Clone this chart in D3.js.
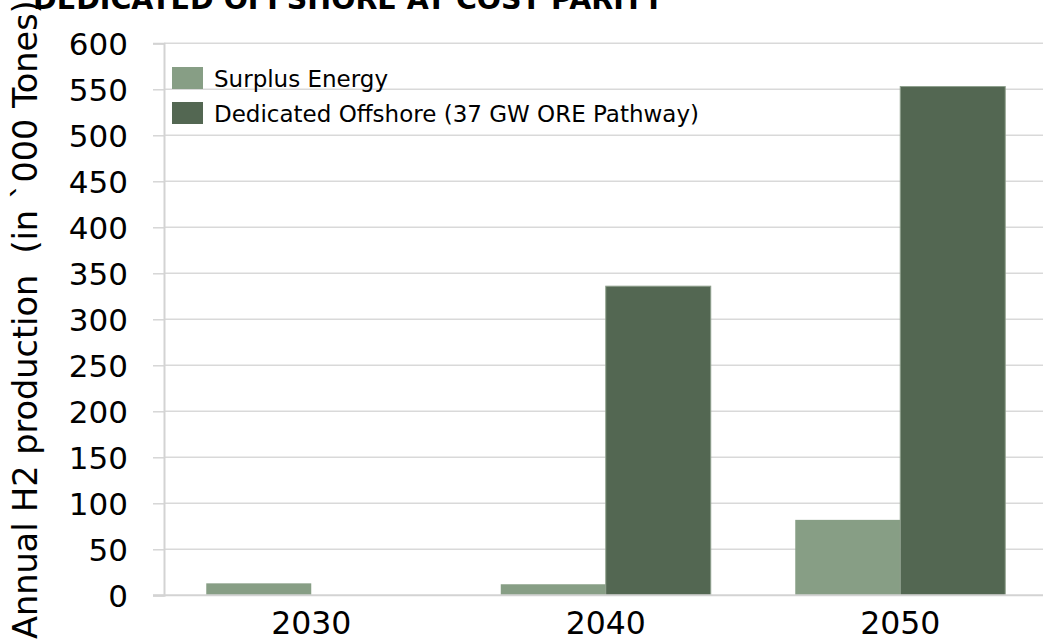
<!DOCTYPE html>
<html>
<head>
<meta charset="utf-8">
<script src="https://cdn.jsdelivr.net/npm/d3@7"></script>
<style>
  html, body { margin: 0; padding: 0; background: #fff; }
  svg { display: block; font-family: "DejaVu Sans", Verdana, sans-serif; }
</style>
</head>
<body>
<svg id="chart" width="1043" height="641"></svg>
<script>
// Annual hydrogen production by pathway ('000 tonnes)
const years = ["2030", "2040", "2050"];
const seriesNames = ["Surplus Energy", "Dedicated Offshore (37 GW ORE Pathway)"];
const surplusEnergy = [13, 12, 82];
const dedicatedOffshore = [0, 336, 553];
const yTicks = [0, 50, 100, 150, 200, 250, 300, 350, 400, 450, 500, 550, 600];
const seriesColors = ["#879e85", "#536752"];

const svg = d3.select("#chart");
const plot = { left: 164, right: 1047.5, top: 43.3, bottom: 595.3 };

const x = d3.scaleBand()
  .domain(years)
  .range([plot.left, plot.right])
  .paddingInner(0.287)
  .paddingOuter(0.1435);

const xInner = d3.scaleBand()
  .domain(seriesNames)
  .range([0, x.bandwidth()]);

const y = d3.scaleLinear()
  .domain([0, 600])
  .range([plot.bottom, plot.top]);

// Title (runs off the top edge)
svg.append("text")
  .attr("x", 33)
  .attr("y", 9)
  .attr("font-size", 28.5)
  .attr("font-weight", "bold")
  .attr("fill", "#000")
  .text("DEDICATED OFFSHORE AT COST PARITY");

// Horizontal gridlines
svg.append("g")
  .selectAll("line")
  .data(yTicks.filter(d => d > 0))
  .join("line")
  .attr("x1", plot.left)
  .attr("x2", 1043)
  .attr("y1", d => y(d))
  .attr("y2", d => y(d))
  .attr("stroke", "#d9d9d9")
  .attr("stroke-width", 1.4);

// Y axis
const yAxis = svg.append("g")
  .attr("transform", `translate(${plot.left},0)`)
  .call(d3.axisLeft(y).tickValues(yTicks).tickSize(11).tickPadding(25));
yAxis.select(".domain").attr("stroke", "#d3d3d3").attr("stroke-width", 2);
yAxis.selectAll(".tick line").attr("stroke", "#d3d3d3").attr("stroke-width", 1.4);
yAxis.selectAll(".tick text")
  .attr("font-size", 31)
  .attr("font-family", "DejaVu Sans, Verdana, sans-serif")
  .attr("fill", "#000")
  .attr("dy", "0.36em");

// Bars
const rows = years.map((yr, i) => ({
  year: yr,
  values: [surplusEnergy[i], dedicatedOffshore[i]]
}));

const groups = svg.append("g")
  .selectAll("g")
  .data(rows)
  .join("g")
  .attr("transform", d => `translate(${x(d.year)},0)`);

groups.selectAll("rect")
  .data(d => d.values.map((v, j) => ({ name: seriesNames[j], value: v, idx: j })))
  .join("rect")
  .attr("x", d => xInner(d.name))
  .attr("width", xInner.bandwidth())
  .attr("y", d => y(d.value))
  .attr("height", d => y(0) - y(d.value))
  .attr("fill", d => seriesColors[d.idx])
  .attr("stroke", d => d.value > 0 ? "#8fa08d" : "none")
  .attr("stroke-width", d => d.idx === 1 ? 1 : 0);

// X axis
const xAxis = svg.append("g")
  .attr("transform", `translate(0,${plot.bottom})`)
  .call(d3.axisBottom(x).tickSize(0).tickPadding(39));
xAxis.select(".domain").remove();
svg.append("line")
  .attr("x1", 153)
  .attr("x2", 1043)
  .attr("y1", plot.bottom)
  .attr("y2", plot.bottom)
  .attr("stroke", "#d3d3d3")
  .attr("stroke-width", 2);
xAxis.selectAll(".tick text")
  .attr("font-size", 31.5)
  .attr("font-family", "DejaVu Sans, Verdana, sans-serif")
  .attr("fill", "#000")
  .attr("dy", 0);

// Y axis title
svg.append("text")
  .attr("transform", "translate(37,639) rotate(-90)")
  .attr("font-size", 33.5)
  .attr("fill", "#000")
  .attr("xml:space", "preserve")
  .text("Annual H2 production  (in `000 Tones)");

// Legend
const legend = svg.append("g")
  .selectAll("g")
  .data(seriesNames)
  .join("g")
  .attr("transform", (d, i) => `translate(172,${67 + i * 35})`);
legend.append("rect")
  .attr("width", 31)
  .attr("height", 22)
  .attr("fill", (d, i) => seriesColors[i]);
legend.append("text")
  .attr("x", 42)
  .attr("y", 20)
  .attr("font-size", 23)
  .attr("fill", "#000")
  .text(d => d);
</script>
</body>
</html>
